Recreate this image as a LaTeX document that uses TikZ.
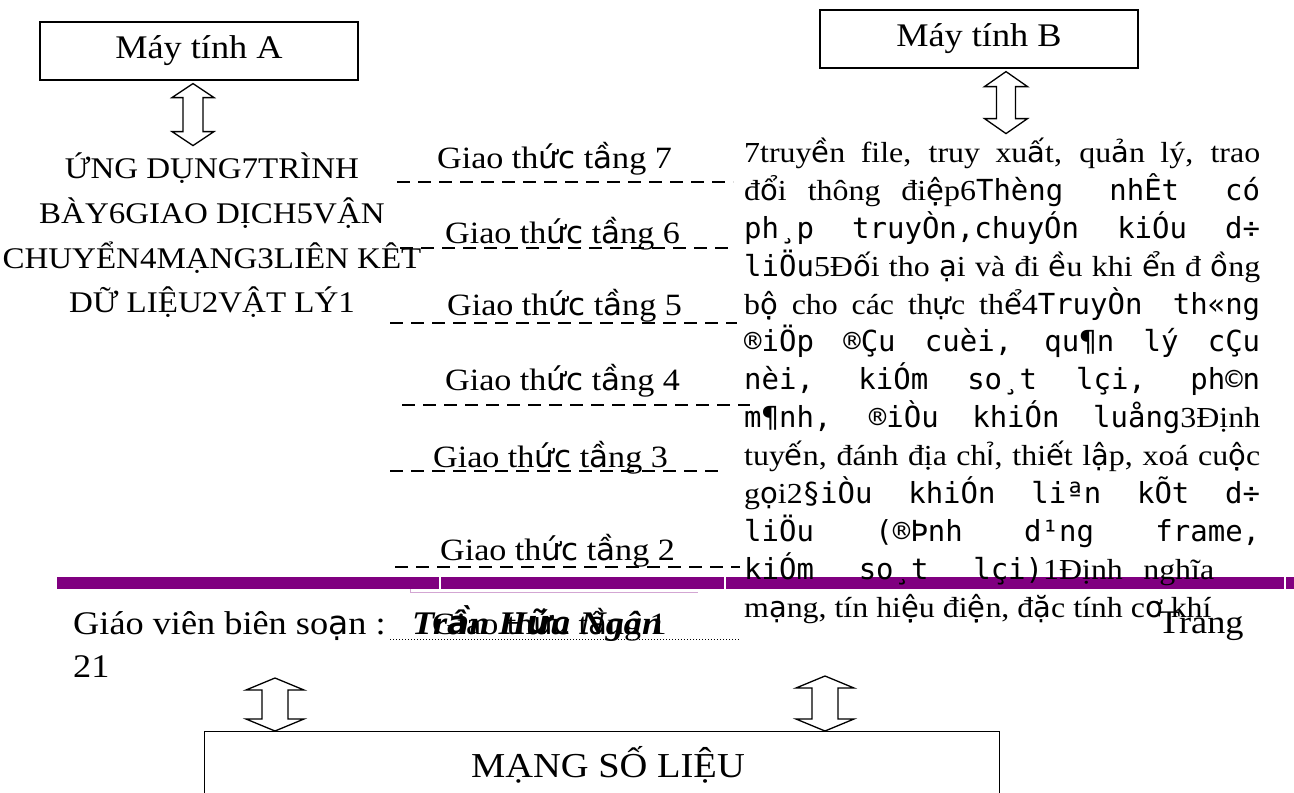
\documentclass[tikz,border=0pt]{standalone}
\usepackage{fontspec}
\setmainfont{Liberation Serif}[FakeStretch=1.1]
\newfontfamily\fbfont{DejaVu Sans}
\newfontfamily\tcvn{DejaVu Sans Mono}
\newcommand\fb[1]{{\fbfont #1}}
\usepackage{tikz}
\usetikzlibrary{calc}
\definecolor{band}{RGB}{128,0,128}
\tikzset{
  pcbox/.style={draw, line width=1.2pt, minimum width=318pt, minimum height=58pt, inner sep=0pt, font=\fontsize{33}{40}\selectfont},
  layers/.style={anchor=base, inner sep=0pt, font=\fontsize{30}{36}\selectfont},
  proto/.style={anchor=base west, inner sep=0pt, font=\fontsize{31}{37}\selectfont},
  peer/.style={line width=1.5pt, dash pattern=on 13pt off 8pt},
  jline/.style={anchor=base west, inner sep=0pt, font=\fontsize{29}{35}\selectfont},
  foot/.style={anchor=base west, inner sep=0pt, font=\fontsize{33}{40}\selectfont},
  pics/updown/.style n args={4}{code={%
    \draw[line width=1.3pt, fill=white]
      (0,0) -- (#2/2,#4) -- (#3/2,#4) -- (#3/2,#1-#4) -- (#2/2,#1-#4)
      -- (0,#1) -- (-#2/2,#1-#4) -- (-#3/2,#1-#4) -- (-#3/2,#4) -- (-#2/2,#4) -- cycle;
  }}
}
\begin{document}
\begin{tikzpicture}[x=1pt, y=-1pt]
  \useasboundingbox (0,0) rectangle (1294,793);
  \clip (0,0) rectangle (1294,793);
  %% the two end systems
  \node [pcbox] (pcA) at (199,51) {Máy tính A};
  \node [pcbox] (pcB) at (979,39) {Máy tính B};
  \pic at ($(pcA.south)+(-6,3)$) {updown={62}{42}{20}{14}};
  \pic at ($(pcB.south)+(27,3)$) {updown={62}{43}{19}{15}};
  %% layer names
  \node [layers] (l1) at (212,178) {ỨNG DỤNG7TRÌNH};
  \node [layers] (l2) at (212,223) {BÀY6GIAO DỊCH5VẬN};
  \node [layers] (l3) at (212,268) {CHUYỂN4MẠNG3LIÊN KÊT};
  \node [layers] (l4) at (212,312) {DỮ LIỆU2VẬT LÝ1};
  %% peer protocols
  \node [proto] (g7) at (437,168) {Giao th\fb{ức} t\fb{ầ}ng 7};
  \draw [peer] (397,182) -- (733,182);
  \node [proto] (g6) at (445,243) {Giao th\fb{ức} t\fb{ầ}ng 6};
  \draw [peer] (400,248) -- (728,248);
  \node [proto] (g5) at (447,315) {Giao th\fb{ức} t\fb{ầ}ng 5};
  \draw [peer] (390,323) -- (737,323);
  \node [proto] (g4) at (445,390) {Giao th\fb{ức} t\fb{ầ}ng 4};
  \draw [peer] (402,405) -- (750,405);
  \node [proto] (g3) at (433,467) {Giao th\fb{ức} t\fb{ầ}ng 3};
  \draw [peer] (390,471) -- (723,471);
  \node [proto] (g2) at (440,560) {Giao th\fb{ức} t\fb{ầ}ng 2};
  \draw [peer] (395,567) -- (740,567);
  %% page rule
  \fill [band] (57,577) rectangle (1294,589);
  \draw [white, line width=1.2pt] (440,576) -- (440,590) (725,576) -- (725,590) (1285,576) -- (1285,590);
  \draw [band!35, line width=1pt] (410,589) -- (410,592) -- (698,592);
  %% functions of the layers
  \node [jline] (p1) at (744,162) {\makebox[516pt][s]{7truy\fb{ề}n file, truy xu\fb{ấ}t, qu\fb{ả}n lý, trao}};
  \node [jline] (p2) at (744,200) {\makebox[516pt][s]{đ\fb{ổ}i thông đi\fb{ệ}p6{\tcvn Thèng nhÊt có}}};
  \node [jline] (p3) at (744,238) {\makebox[516pt][s]{\tcvn ph¸p truyÒn,chuyÓn kiÓu d÷}};
  \node [jline] (p4) at (744,276) {\makebox[516pt][s]{{\tcvn liÖu}5Đ\fb{ố}i tho \fb{ạ}i và đi \fb{ề}u khi \fb{ể}n đ \fb{ồ}ng}};
  \node [jline] (p5) at (744,314) {\makebox[516pt][s]{b\fb{ộ} cho các th\fb{ự}c th\fb{ể}4{\tcvn TruyÒn th«ng}}};
  \node [jline] (p6) at (744,351) {\makebox[516pt][s]{\tcvn ®iÖp ®Çu cuèi, qu¶n lý cÇu}};
  \node [jline] (p7) at (744,389) {\makebox[516pt][s]{\tcvn nèi, kiÓm so¸t lçi, ph©n}};
  \node [jline] (p8) at (744,427) {\makebox[516pt][s]{{\tcvn m¶nh, ®iÒu khiÓn luång}3Định}};
  \node [jline] (p9) at (744,465) {\makebox[516pt][s]{tuy\fb{ế}n, đánh địa ch\fb{ỉ}, thi\fb{ế}t l\fb{ậ}p, xoá cu\fb{ộ}c}};
  \node [jline] (p10) at (744,503) {\makebox[516pt][s]{g\fb{ọ}i2{\tcvn §iÒu khiÓn liªn kÕt d÷}}};
  \node [jline] (p11) at (744,541) {\makebox[516pt][s]{\tcvn liÖu (®Þnh d¹ng frame,}};
  \node [jline] (p12) at (744,579) {\makebox[470pt][s]{{\tcvn kiÓm so¸t lçi)}1Định nghĩa}};
  \node [jline] (p13) at (744,617) {m\fb{ạ}ng, tín hi\fb{ệ}u đi\fb{ệ}n, đ\fb{ặ}c tính c\fb{ơ} khí};
  %% footer
  \node [foot] (teacher) at (73,634) {Giáo viên biên so\fb{ạ}n :};
  \draw [dotted, line width=1pt] (390,639) -- (740,639);
  \node [foot, font=\fontsize{33}{40}\selectfont\bfseries\itshape] (name) at (412,634) {Tr\fb{ầ}n H\fb{ữ}u Ngân};
  \node [proto, anchor=base east] (g1) at (667,634) {Giao th\fb{ức} t\fb{ầ}ng 1};
  \node [foot] (page) at (1158,633) {Trang};
  \node [foot] (pagenum) at (73,677) {21};
  %% the network
  \node [draw, line width=1.2pt, minimum width=795pt, minimum height=100pt, anchor=north west, inner sep=0pt] (net) at (204,731) {};
  \node [anchor=base, inner sep=0pt, font=\fontsize{35}{42}\selectfont] (netlbl) at (608,777) {MẠNG SỐ LIỆU};
  \pic at ($(net.north west)+(71,-53)$) {updown={53}{58}{26}{12}};
  \pic at ($(net.north west)+(621,-55)$) {updown={55}{58}{26}{12}};
\end{tikzpicture}
\end{document}
